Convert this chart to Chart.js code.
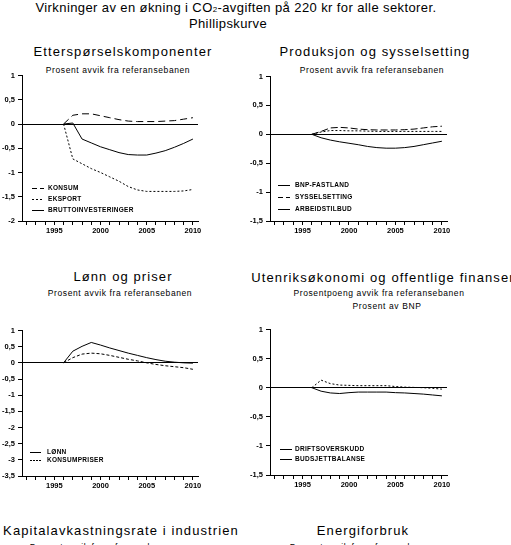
<!DOCTYPE html>
<html>
<head>
<meta charset="utf-8">
<script src="https://cdn.jsdelivr.net/npm/chart.js@4.4.1/dist/chart.umd.min.js"></script>
<style>
  html, body { margin: 0; padding: 0; background: #fff; }
  #page { position: relative; width: 511px; height: 545px; overflow: hidden; background: #fff; font-family: "Liberation Sans", Arial, sans-serif; color: #000; }
  .txt { position: absolute; transform: translate(-50%, -50%); white-space: nowrap; line-height: 1; }
  .main { font-size: 13px; letter-spacing: 0.4px; }
  .ptitle { font-size: 13px; letter-spacing: 1.1px; }
  .psub { font-size: 8.5px; letter-spacing: 0.6px; }
  .box { position: absolute; }
</style>
</head>
<body>
<div id="page">
  <div class="txt main" style="left:236px; top:7px;">Virkninger av en økning i CO<span style="font-size:8px">2</span>-avgiften på 220 kr for alle sektorer.</div>
  <div class="txt main" style="left:228px; top:23px;">Phillipskurve</div>

  <div class="txt ptitle" style="left:123px; top:51px;">Etterspørselskomponenter</div>
  <div class="txt psub" style="left:118px; top:70px;">Prosent avvik fra referansebanen</div>
  <div class="txt ptitle" style="left:375px; top:51px;">Produksjon og sysselsetting</div>
  <div class="txt psub" style="left:372px; top:70px;">Prosent avvik fra referansebanen</div>

  <div class="txt ptitle" style="left:123px; top:276px;">Lønn og priser</div>
  <div class="txt psub" style="left:120px; top:293px;">Prosent avvik fra referansebanen</div>
  <div class="txt ptitle" style="left:383px; top:277px;">Utenriksøkonomi og offentlige finanser</div>
  <div class="txt psub" style="left:379px; top:293px;">Prosentpoeng avvik fra referansebanen</div>
  <div class="txt psub" style="left:387px; top:306px;">Prosent av BNP</div>

  <div class="txt ptitle" style="left:121px; top:530px;">Kapitalavkastningsrate i industrien</div>
  <div class="txt psub" style="left:102px; top:547px;">Prosent avvik fra referansebanen</div>
  <div class="txt ptitle" style="left:363px; top:530px;">Energiforbruk</div>
  <div class="txt psub" style="left:362px; top:547px;">Prosent avvik fra referansebanen</div>

  <div class="box" style="left:0px; top:68px; width:205px; height:169px;"><canvas id="c1"></canvas></div>
  <div class="box" style="left:248px; top:69px; width:206px; height:168px;"><canvas id="c2"></canvas></div>
  <div class="box" style="left:0px; top:323px; width:205px; height:169px;"><canvas id="c3"></canvas></div>
  <div class="box" style="left:248px; top:322px; width:206px; height:169px;"><canvas id="c4"></canvas></div>
</div>

<script>
// år i simuleringen
const years = [1996, 1997, 1998, 1999, 2000, 2001, 2002, 2003, 2004, 2005, 2006, 2007, 2008, 2009, 2010];
const tickYears = [1992, 1993, 1994, 1995, 1996, 1997, 1998, 1999, 2000, 2001, 2002, 2003, 2004, 2005, 2006, 2007, 2008, 2009, 2010];
const labelYears = [1995, 2000, 2005, 2010];

// Etterspørselskomponenter
const konsum = [0, 0.18, 0.21, 0.21, 0.17, 0.13, 0.09, 0.06, 0.05, 0.05, 0.05, 0.06, 0.07, 0.1, 0.13];
const eksport = [0, -0.72, -0.82, -0.92, -1.0, -1.09, -1.18, -1.29, -1.36, -1.39, -1.39, -1.39, -1.39, -1.38, -1.35];
const bruttoinv = [0, 0.02, -0.31, -0.39, -0.47, -0.53, -0.59, -0.63, -0.64, -0.64, -0.6, -0.55, -0.48, -0.4, -0.31];

// Produksjon og sysselsetting
const bnpFastland = [0, -0.06, -0.1, -0.13, -0.155, -0.18, -0.21, -0.23, -0.24, -0.24, -0.23, -0.21, -0.18, -0.15, -0.12];
const sysselsetting = [0, 0.05, 0.11, 0.12, 0.11, 0.09, 0.08, 0.075, 0.075, 0.075, 0.08, 0.09, 0.11, 0.13, 0.14];
const arbeidstilbud = [0, 0.04, 0.065, 0.065, 0.06, 0.06, 0.055, 0.05, 0.05, 0.05, 0.05, 0.05, 0.05, 0.05, 0.05];

// Lønn og priser
const lonn = [0, 0.36, 0.51, 0.63, 0.55, 0.46, 0.38, 0.3, 0.23, 0.16, 0.1, 0.05, 0.02, 0.0, -0.01];
const konsumpriser = [0, 0.16, 0.27, 0.3, 0.28, 0.23, 0.17, 0.11, 0.06, 0.0, -0.05, -0.09, -0.12, -0.15, -0.2];

// Utenriksøkonomi og offentlige finanser
const driftsoverskudd = [0, -0.06, -0.09, -0.1, -0.085, -0.075, -0.075, -0.075, -0.075, -0.085, -0.09, -0.1, -0.11, -0.125, -0.14];
const budsjettbalanse = [0, 0.13, 0.07, 0.045, 0.04, 0.035, 0.035, 0.035, 0.035, 0.02, 0.01, 0.005, 0, -0.01, -0.025];

const fontName = '"Liberation Sans", Arial, sans-serif';

function pts(vals) {
  return years.map((y, i) => ({ x: y, y: vals[i] }));
}

function serie(label, vals, dash, legendDash) {
  return {
    label: label,
    data: pts(vals),
    borderColor: "#000",
    borderWidth: 1,
    borderDash: dash,
    legendDash: legendDash || dash,
    pointRadius: 0,
    tension: 0,
    fill: false,
  };
}

// legende inne i plottet, nede til venstre
const insideLegend = {
  id: "insideLegend",
  afterDatasetsDraw(chart, args, opts) {
    const o = chart.options.plugins.insideLegend || opts;
    const { ctx, chartArea } = chart;
    const sets = chart.data.datasets;
    ctx.save();
    ctx.font = "bold 6.5px " + fontName;
    ctx.letterSpacing = "0.3px";
    ctx.fillStyle = "#000";
    ctx.strokeStyle = "#000";
    ctx.lineWidth = 1;
    ctx.textBaseline = "middle";
    sets.forEach((ds, i) => {
      const y = Math.round(chartArea.bottom - o.bottom - (sets.length - 1 - i) * o.gap) + 0.5;
      ctx.setLineDash(ds.legendDash || []);
      ctx.beginPath();
      ctx.moveTo(chartArea.left + o.x0, y);
      ctx.lineTo(chartArea.left + o.x1, y);
      ctx.stroke();
      ctx.setLineDash([]);
      ctx.fillText(ds.label, chartArea.left + o.tx, y);
    });
    ctx.restore();
  },
};

function lagGraf(id, datasets, ymin, ymax, legend) {
  const ctx = document.getElementById(id);
  return new Chart(ctx, {
    type: "line",
    data: { datasets: datasets },
    plugins: [insideLegend],
    options: {
      responsive: true,
      maintainAspectRatio: false,
      animation: false,
      layout: { padding: { top: 7, right: 7, left: 0, bottom: 0 } },
      plugins: {
        legend: { display: false },
        tooltip: { enabled: false },
        insideLegend: legend,
      },
      scales: {
        x: {
          type: "linear",
          min: 1991.5,
          max: 2010.55,
          afterBuildTicks: (s) => {
            s.ticks = tickYears.map((v) => ({ value: v }));
          },
          afterFit: (s) => {
            s.height = 16;
          },
          ticks: {
            autoSkip: false,
            maxRotation: 0,
            padding: 1,
            color: "#000",
            font: { family: fontName, size: 7.5, weight: "bold" },
            callback: (v) => (labelYears.includes(v) ? String(v) : ""),
          },
          grid: { drawOnChartArea: false, tickLength: 4, tickColor: "#000" },
          border: { color: "#000", width: 1 },
        },
        y: {
          min: ymin,
          max: ymax,
          afterFit: (s) => {
            s.width = 22;
          },
          ticks: {
            stepSize: 0.5,
            padding: 3,
            color: "#000",
            font: { family: fontName, size: 7.5, weight: "bold" },
            callback: (v) => String(v).replace(".", ","),
          },
          grid: {
            color: (c) => (c.tick && c.tick.value === 0 ? "#000" : "rgba(0,0,0,0)"),
            tickColor: "#000",
            tickLength: 4,
            lineWidth: 1,
          },
          border: { color: "#000", width: 1 },
        },
      },
    },
  });
}

lagGraf("c1", [
  serie("KONSUM", konsum, [7, 4], [5, 3]),
  serie("EKSPORT", eksport, [2, 2]),
  serie("BRUTTOINVESTERINGER", bruttoinv, []),
], -2, 1, { bottom: 11, gap: 11, x0: 10, x1: 22, tx: 26 });

lagGraf("c2", [
  serie("BNP-FASTLAND", bnpFastland, []),
  serie("SYSSELSETTING", sysselsetting, [7, 3], [5, 3]),
  serie("ARBEIDSTILBUD", arbeidstilbud, [2, 2], []),
], -1.5, 1, { bottom: 12, gap: 12, x0: 8, x1: 20, tx: 25 });

lagGraf("c3", [
  serie("LØNN", lonn, []),
  serie("KONSUMPRISER", konsumpriser, [3, 2], [2, 1]),
], -3.5, 1, { bottom: 16, gap: 8.5, x0: 8, x1: 19, tx: 25 });

lagGraf("c4", [
  serie("DRIFTSOVERSKUDD", driftsoverskudd, []),
  serie("BUDSJETTBALANSE", budsjettbalanse, [2, 2], []),
], -1.5, 1, { bottom: 16, gap: 10, x0: 10, x1: 22, tx: 25 });
</script>
</body>
</html>
